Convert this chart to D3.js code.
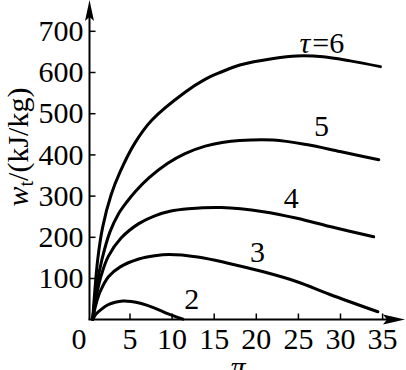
<!DOCTYPE html>
<html>
<head>
<meta charset="utf-8">
<script src="https://cdn.jsdelivr.net/npm/d3@7"></script>
<style>
  body { margin: 0; background: #fff; }
  svg { display: block; }
  text { font-family: "Liberation Serif", "Times New Roman", serif; fill: #000; }
</style>
</head>
<body>
<svg id="chart" width="406" height="370"></svg>
<script>
// pressure ratio ticks and work ticks
const piTicks = [0, 5, 10, 15, 20, 25, 30, 35];
const wTicks = [100, 200, 300, 400, 500, 600, 700];

// temperature ratios of the curves
const taus = [2, 3, 4, 5, 6];

// [pi, w_t], one array per tau
const tau2 = [[0.63,0],[1.0,12],[1.65,24],[2.45,35],[3.3,41],[4.2,44],[5.2,43],[6.4,38],[8.0,27],[9.6,13],[11.35,0]];
const tau3 = [[0.63,0],[1.0,35],[1.5,66],[2.5,103],[3.9,127],[6.1,146],[8.0,154],[9.7,157],[13.1,151],[16.7,136],[20.9,115],[24.9,91],[28.8,60],[34.5,18]];
const tau4 = [[0.63,0],[1.1,60],[1.7,110],[2.5,153],[4.0,197],[6.1,232],[8.0,251],[9.8,262],[12,268],[15.9,271],[20.9,261],[24.9,245],[28.8,225],[34,200]];
const tau5 = [[0.63,0],[1.1,80],[1.73,145],[2.68,212],[3.67,255],[4.7,285],[5.7,310],[7.3,343],[9.5,378],[11.6,402],[14,420],[16,429],[18.1,434],[22.1,435],[26,424],[30,407],[34.6,387]];
const tau6 = [[0.63,0],[1.22,144],[1.82,224],[2.8,301],[3.87,357],[5.65,428],[7.64,483],[11.6,551],[13.97,582],[15.55,597],[18.1,617],[22.1,633],[24.9,639],[28,637],[31.2,627],[34.8,613]];

const series = [tau2, tau3, tau4, tau5, tau6];

const svg = d3.select("#chart");

const x = d3.scaleLinear().domain([0, 35]).range([87.4, 382.1]);
const y = d3.scaleLinear().domain([0, 700]).range([319.2, 30.8]);

const axisX = 89.5, axisY = 319.5;

// x axis (ticks point up, into the plot)
const gx = svg.append("g")
    .attr("transform", "translate(0," + axisY + ")")
    .call(d3.axisBottom(x).tickValues(piTicks).tickSizeInner(-6).tickSizeOuter(0).tickPadding(8));
gx.select(".domain").remove();
gx.selectAll(".tick line").attr("stroke", "#000").attr("stroke-width", 1.5);
gx.selectAll(".tick text").attr("font-size", 30).attr("font-family", null);
gx.selectAll(".tick").filter(d => d === 0).select("line").remove();
gx.selectAll(".tick").filter(d => d === 0).select("text").attr("x", -9);

// y axis (ticks point right)
const gy = svg.append("g")
    .attr("transform", "translate(" + axisX + ",0)")
    .call(d3.axisLeft(y).tickValues(wTicks).tickSizeInner(-6).tickSizeOuter(0).tickPadding(6));
gy.select(".domain").remove();
gy.selectAll(".tick line").attr("stroke", "#000").attr("stroke-width", 1.5);
gy.selectAll(".tick text").attr("font-size", 30).attr("font-family", null);

// axis lines with arrow heads
svg.append("line").attr("x1", axisX).attr("y1", axisY).attr("x2", axisX).attr("y2", 12)
    .attr("stroke", "#000").attr("stroke-width", 2);
svg.append("line").attr("x1", axisX - 1).attr("y1", axisY).attr("x2", 392).attr("y2", axisY)
    .attr("stroke", "#000").attr("stroke-width", 2);
svg.append("path").attr("d", `M${axisX},0 L${axisX + 4.5},21 L${axisX},17 L${axisX - 4.5},21 Z`).attr("fill", "#000");
svg.append("path").attr("d", `M405,${axisY} L383,${axisY - 5} L387,${axisY} L383,${axisY + 5} Z`).attr("fill", "#000");

// curves
const line = d3.line()
    .x(d => x(d[0]))
    .y(d => y(d[1]))
    .curve(d3.curveCatmullRom.alpha(0.5));

svg.selectAll(".curve")
    .data(series)
    .enter().append("path")
    .attr("class", "curve")
    .attr("d", line)
    .attr("fill", "none")
    .attr("stroke", "#000")
    .attr("stroke-width", 3)
    .attr("stroke-linecap", "round");

// curve labels, placed in data coordinates
const labelAt = [[12.4, 25], [20.2, 140], [24.2, 270], [27.8, 445], [25.2, 645]];
const labels = svg.selectAll(".clabel")
    .data(taus)
    .enter().append("text")
    .attr("class", "clabel")
    .attr("x", (d, i) => x(labelAt[i][0]))
    .attr("y", (d, i) => y(labelAt[i][1]))
    .attr("font-size", 30)
    .attr("text-anchor", (d, i) => i === 4 ? "start" : "middle");
labels.filter(d => d !== 6).text(d => d);
const tl = labels.filter(d => d === 6);
tl.append("tspan").attr("font-style", "italic").text("τ");
tl.append("tspan").attr("dx", 2).text("=6");

// axis titles
const yt = svg.append("text")
    .attr("transform", "translate(28,147) rotate(-90)")
    .attr("text-anchor", "middle")
    .attr("font-size", 30);
yt.append("tspan").attr("font-style", "italic").text("w");
yt.append("tspan").attr("font-size", 20).attr("dy", 5).text("t");
yt.append("tspan").attr("dy", -5).text("/(kJ/kg)");

svg.append("text")
    .attr("x", 238).attr("y", 377)
    .attr("text-anchor", "middle")
    .attr("font-size", 30)
    .attr("font-style", "italic")
    .text("π");
</script>
</body>
</html>
